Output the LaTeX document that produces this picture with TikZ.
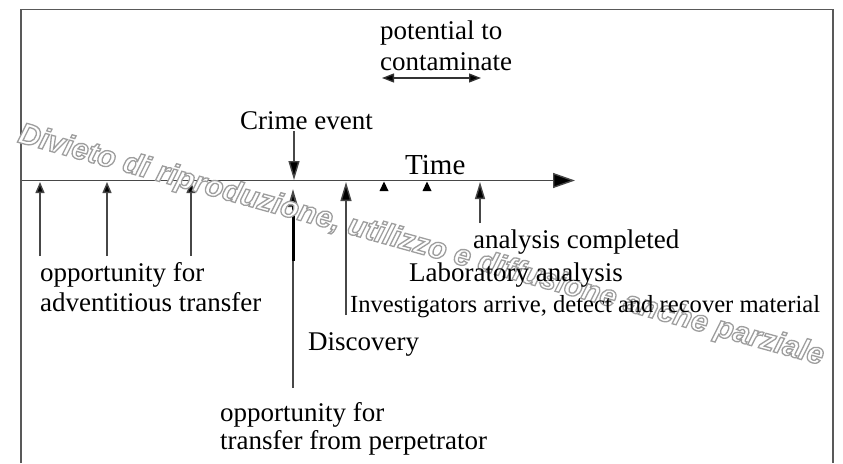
\documentclass[tikz,border=0pt]{standalone}
\usepackage{fontspec}
\setmainfont{Liberation Serif}
\newfontfamily\wmfont{Liberation Sans}
\usetikzlibrary{arrows.meta}
\newcommand{\outlinetext}[1]{\special{pdf:literal direct 2 Tr 1.3 w 1 g 0.62 G}#1\special{pdf:literal direct 0 Tr 0 g 0 G}}
\begin{document}
\begin{tikzpicture}[x=1pt,y=-1pt,
  lbl/.style={inner sep=0pt, anchor=base west, font=\fontsize{27}{30}\selectfont},
  smalllbl/.style={inner sep=0pt, anchor=base west, font=\fontsize{24.6}{28}\selectfont},
  shaft/.style={draw=black!72, line width=1.4pt},
  uparrow/.style={shaft, -{Triangle[length=11pt,width=9pt,fill=black]}},
  bigarrow/.style={shaft, -{Triangle[length=19pt,width=11pt,fill=black]}},
  frameline/.style={draw=black!65, line width=1.6pt},
  tick/.style={fill=black}]
\useasboundingbox (0,0) rectangle (843,463);
% frame
\draw[frameline] (21,463) -- (21,9.5) -- (833,9.5) -- (833,463);
% timeline
\coordinate (tl0) at (22,180.5);
\coordinate (tlend) at (575,180.5);
\draw[shaft, -{Triangle[length=22pt,width=15pt,fill=black]}] (tl0) -- (tlend);
\coordinate (potL) at (382,78);
\coordinate (potR) at (481,78);
\draw[draw=black!80, line width=1.3pt, {Triangle[length=12pt,width=9pt,fill=black]}-{Triangle[length=12pt,width=9pt,fill=black]}] (potL) -- (potR);
% arrows to the timeline
\coordinate (a1s) at (40,256);   \coordinate (a1e) at (40,182);
\coordinate (a2s) at (107,256);  \coordinate (a2e) at (107,182);
\coordinate (a3s) at (191,256);  \coordinate (a3e) at (191,182);
\draw[uparrow] (a1s) -- (a1e);
\draw[uparrow] (a2s) -- (a2e);
\draw[uparrow] (a3s) -- (a3e);
\coordinate (cs) at (294,131);  \coordinate (ce) at (294,180);
\draw[bigarrow] (cs) -- (ce);
\coordinate (ds) at (346,315);  \coordinate (de) at (346,182);
\draw[bigarrow] (ds) -- (de);
\coordinate (ps) at (293,388);  \coordinate (pe) at (293,189);
\draw[shaft, line width=1.8pt, -{Triangle[length=18pt,width=10pt,fill=black]}] (ps) -- (pe);
\coordinate (pt1) at (293,205);  \coordinate (pt2) at (293,261);
\draw[draw=black, line width=3pt] (pt1) -- (pt2);
\coordinate (cs2) at (480,223);  \coordinate (ce2) at (480,182);
\draw[shaft, -{Triangle[length=17pt,width=10pt,fill=black]}] (cs2) -- (ce2);
% small ticks
\fill[tick] (384,181.5) -- (379.5,191) -- (388.5,191) -- cycle;
\fill[tick] (427,181.5) -- (422.5,191) -- (431.5,191) -- cycle;
% watermark
\node[rotate=-15.5, inner sep=0pt, font=\wmfont\bfseries\itshape\fontsize{30}{32}\selectfont] (wm) at (421,246)
  {\outlinetext{Divieto di riproduzione, utilizzo e diffusione anche parziale}};
% texts
\node[lbl] (pot1) at (380,39) {potential to};
\node[lbl] (pot2) at (380,70) {contaminate};
\node[lbl] (crime) at (240,129) {Crime event};
\node[lbl, font=\fontsize{29}{30}\selectfont] (time) at (405,174) {Time};
\node[lbl] (adv1) at (40,281) {opportunity for};
\node[lbl] (adv2) at (40,311) {adventitious transfer};
\node[lbl] (anal) at (473,248) {analysis completed};
\node[lbl] (lab) at (409,281) {Laboratory analysis};
\node[smalllbl] (inv) at (350,312) {Investigators arrive, detect and recover material};
\node[lbl] (disc) at (308,350) {Discovery};
\node[lbl] (perp1) at (220,421) {opportunity for};
\node[lbl] (perp2) at (220,449) {transfer from perpetrator};
\end{tikzpicture}
\end{document}
